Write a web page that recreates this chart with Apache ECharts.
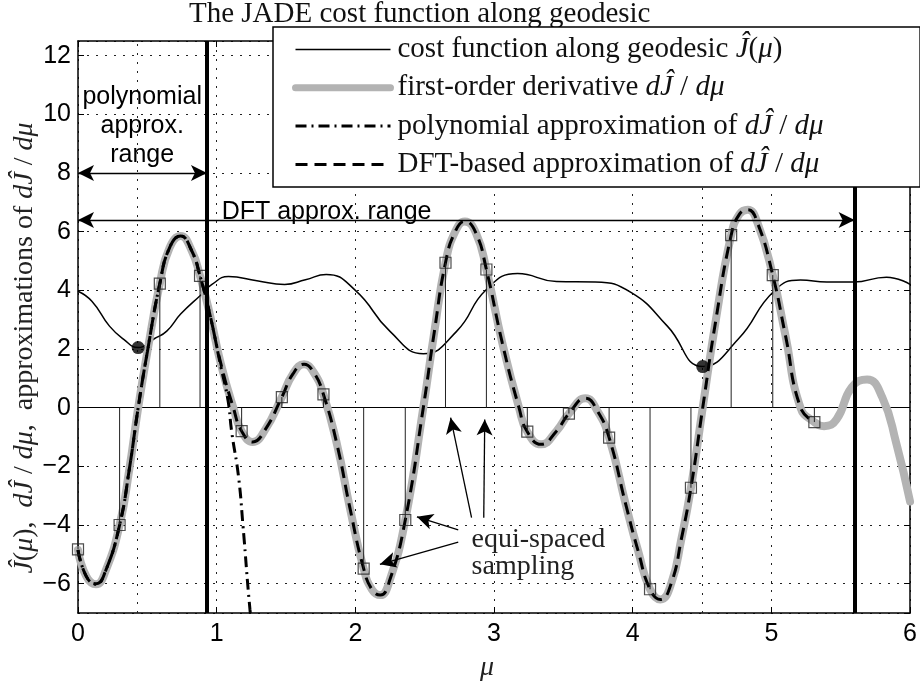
<!DOCTYPE html>
<html>
<head>
<meta charset="utf-8">
<title>JADE cost function along geodesic</title>
<script src="https://cdn.jsdelivr.net/npm/echarts@6/dist/echarts.min.js"></script>
<style>
  html, body { margin: 0; padding: 0; background: #fff; }
  #chart { width: 920px; height: 686px; }
</style>
</head>
<body>
<div id="chart"></div>
<script>
// ---- data ----
// cost function J(mu) along the geodesic
var costMu  = [0, 0.10, 0.227, 0.33, 0.434, 0.55, 0.64, 0.74, 0.89, 0.966, 1.085, 1.29, 1.49, 1.64, 1.79, 2.0, 2.25, 2.49, 2.73, 2.945, 3.17, 3.45, 3.73, 3.99, 4.25, 4.505, 4.76, 5.02, 5.21, 5.40, 5.59, 5.83, 6.0];
var costVal = [3.97, 3.63, 2.78, 2.33, 2.05, 2.35, 2.61, 3.19, 3.86, 4.2, 4.47, 4.33, 4.2, 4.36, 4.54, 4.0, 2.6, 1.84, 2.6, 4.03, 4.57, 4.3, 4.28, 3.92, 2.78, 1.40, 2.33, 3.98, 4.35, 4.28, 4.28, 4.45, 4.2];

// first-order derivative dJ/dmu
var derivMu  = [0, 0.06, 0.13, 0.20, 0.30, 0.37, 0.434, 0.50, 0.59, 0.66, 0.74, 0.82, 0.88, 0.95, 1.03, 1.12, 1.18, 1.26, 1.35, 1.47, 1.55, 1.63, 1.70, 1.77, 1.87, 1.96, 2.06, 2.12, 2.18, 2.25, 2.36, 2.49, 2.57, 2.65, 2.72, 2.79, 2.87, 2.945, 3.06, 3.18, 3.24, 3.34, 3.45, 3.54, 3.66, 3.75, 3.83, 3.95, 4.04, 4.125, 4.20, 4.28, 4.35, 4.42, 4.505, 4.60, 4.71, 4.77, 4.83, 4.90, 5.01, 5.10, 5.21, 5.31, 5.38, 5.47, 5.58, 5.69, 5.80, 5.90, 6.0];
var derivVal = [-4.85, -5.75, -6.02, -5.55, -4.0, -2.1, 0, 1.9, 4.23, 5.45, 5.85, 5.35, 4.49, 3.2, 1.5, 0, -0.8, -1.17, -0.75, 0.36, 1.15, 1.48, 1.2, 0.45, -1.3, -3.4, -5.49, -6.2, -6.39, -5.85, -3.83, 0, 2.6, 4.94, 6.0, 6.35, 5.95, 4.71, 2.2, 0, -0.82, -1.25, -0.8, -0.2, 0.32, -0.15, -1.02, -3.3, -4.9, -6.19, -6.54, -5.96, -4.5, -2.73, 0, 3.0, 5.88, 6.6, 6.75, 6.3, 4.52, 2.5, 0, -0.49, -0.63, -0.4, 0.7, 0.96, 0.35, -1.2, -3.2];

// polynomial approximation of dJ/dmu
var polyMu  = [0, 0.06, 0.13, 0.20, 0.30, 0.37, 0.434, 0.50, 0.59, 0.66, 0.74, 0.82, 0.88, 0.95, 1.03, 1.08, 1.109, 1.157, 1.19, 1.24, 1.26];
var polyVal = [-4.85, -5.75, -6.02, -5.55, -4.0, -2.1, 0, 1.9, 4.23, 5.45, 5.85, 5.35, 4.49, 3.2, 1.4, 0.3, -0.85, -2.33, -4.04, -6.88, -7.6];

// DFT-based approximation of dJ/dmu
var dftMu  = [0, 0.06, 0.13, 0.20, 0.30, 0.37, 0.434, 0.50, 0.59, 0.66, 0.74, 0.82, 0.88, 0.95, 1.03, 1.12, 1.18, 1.26, 1.35, 1.47, 1.55, 1.63, 1.70, 1.77, 1.87, 1.96, 2.06, 2.12, 2.18, 2.25, 2.36, 2.49, 2.57, 2.65, 2.72, 2.79, 2.87, 2.945, 3.06, 3.18, 3.24, 3.34, 3.45, 3.54, 3.66, 3.75, 3.83, 3.95, 4.04, 4.125, 4.20, 4.28, 4.35, 4.42, 4.505, 4.60, 4.71, 4.77, 4.83, 4.90, 5.01, 5.10, 5.21, 5.31];
var dftVal = [-4.85, -5.75, -6.0, -5.55, -4.0, -2.1, 0, 1.9, 4.23, 5.45, 5.85, 5.35, 4.49, 3.2, 1.5, 0, -0.8, -1.17, -0.75, 0.36, 1.15, 1.48, 1.2, 0.45, -1.3, -3.4, -5.49, -6.2, -6.39, -5.85, -3.83, 0, 2.6, 4.94, 6.0, 6.35, 5.95, 4.71, 2.2, 0, -0.82, -1.25, -0.8, -0.2, 0.32, -0.15, -1.02, -3.3, -4.9, -6.19, -6.54, -5.96, -4.5, -2.73, 0, 3.0, 5.88, 6.6, 6.75, 6.3, 4.52, 2.5, 0, -0.49];

// equi-spaced samples (stems + squares)
var sampleMu  = [0, 0.30, 0.59, 0.88, 1.18, 1.47, 1.77, 2.06, 2.36, 2.65, 2.945, 3.24, 3.54, 3.83, 4.125, 4.42, 4.71, 5.01, 5.31];
var sampleVal = [-4.83, -4.0, 4.23, 4.49, -0.8, 0.36, 0.45, -5.49, -3.83, 4.94, 4.71, -0.82, -0.2, -1.02, -6.19, -2.73, 5.88, 4.52, -0.49];

// minima of the cost function
var minMu  = [0.434, 4.505];
var minVal = [2.05, 1.40];

// approximation ranges
var polyRangeEnd = 0.93, polyRangeY = 8;
var dftRangeEnd = 5.6,  dftRangeY = 6.4;

var xTicks = [0, 1, 2, 3, 4, 5, 6];

var names = [
  'cost function along geodesic Ĵ(μ)',
  'first-order derivative dĴ/dμ',
  'polynomial approximation of dĴ/dμ',
  'DFT-based approximation of dĴ/dμ'
];

function pairs(xs, ys) {
  return xs.map(function (x, i) { return [x, ys[i]]; });
}

var serif = '"Liberation Serif", "Times New Roman", serif';
var sans = '"Liberation Sans", Arial, Helvetica, sans-serif';
var dotted = { type: [2, 7], color: '#222', width: 1 };
var legFont = 29;

// legend right padding so the box ends where the reference box ends
var mctx = document.createElement('canvas').getContext('2d');
mctx.font = legFont + 'px ' + serif;
var maxW = 0;
names.forEach(function (n) {
  maxW = Math.max(maxW, mctx.measureText(n.replace('/', ' / ')).width);
});
var legPadRight = Math.max(10, (916 - 273) - 19 - 95 - 5 - 2 - maxW);

function mathRich(s) {
  return '{s|}' + s.replace('Ĵ(μ)', '{m|Ĵ}({m|μ})').replace('dĴ/dμ', '{m|dĴ} / {m|dμ}');
}

var chart = echarts.init(document.getElementById('chart'));

var option = {
  animation: false,
  backgroundColor: '#fff',
  title: {
    text: 'The JADE cost function along geodesic',
    left: 189, top: 0, padding: 0,
    textStyle: { fontFamily: serif, fontSize: 29, fontWeight: 'normal', color: '#111' }
  },
  legend: {
    orient: 'vertical', left: 273, top: 27, z: 20,
    backgroundColor: '#fff', borderColor: '#000', borderWidth: 1.5,
    padding: [8, legPadRight, 8, 19],
    itemWidth: 95, itemHeight: 20, itemGap: 9.3,
    selectedMode: false,
    formatter: mathRich,
    itemStyle: { opacity: 0, borderWidth: 0 },
    textStyle: {
      fontFamily: serif, fontSize: legFont, lineHeight: 28, color: '#111',
      rich: {
        s: { width: 2 },
        m: { fontFamily: serif, fontSize: legFont, lineHeight: 28, fontStyle: 'italic', color: '#111' }
      }
    },
    data: [
      { name: names[0], lineStyle: { width: 1.5 } },
      { name: names[1], lineStyle: { width: 7 } },
      { name: names[2], lineStyle: { width: 3 } },
      { name: names[3], lineStyle: { width: 3 } }
    ]
  },
  grid: { left: 78, right: 3, top: 41, bottom: 73 },
  xAxis: [{
    type: 'value', min: 0, max: 6, interval: 1,
    axisLine: { show: true, onZero: false, lineStyle: { color: '#000', width: 1.5 } },
    axisTick: { show: true, inside: true, length: 6, lineStyle: { color: '#000' } },
    axisLabel: { fontFamily: sans, fontSize: 25, color: '#000', margin: 9,
      formatter: function (v) { return xTicks.indexOf(v) >= 0 ? String(v) : ''; } },
    splitLine: { show: true, lineStyle: dotted }
  }, {
    type: 'value', min: 0, max: 6, interval: 1, position: 'top',
    axisLine: { show: true, onZero: false, lineStyle: { color: '#000', width: 1.5 } },
    axisTick: { show: true, inside: true, length: 6, lineStyle: { color: '#000' } },
    axisLabel: { show: false }, splitLine: { show: false }
  }],
  yAxis: [{
    type: 'value', min: -7, max: 12.5, splitNumber: 10,
    axisLine: { show: true, onZero: false, lineStyle: { color: '#000', width: 1.5 } },
    axisTick: { show: true, inside: true, length: 6, lineStyle: { color: '#000' } },
    axisLabel: { fontFamily: sans, fontSize: 25, color: '#000', margin: 7,
      showMinLabel: false, showMaxLabel: false,
      formatter: function (v) { return String(v).replace('-', '\u2212'); } },
    splitLine: { show: true, lineStyle: dotted }
  }, {
    type: 'value', min: -7, max: 12.5, splitNumber: 10, position: 'right',
    axisLine: { show: true, onZero: false, lineStyle: { color: '#000', width: 1.5 } },
    axisTick: { show: true, inside: true, length: 6, lineStyle: { color: '#000' } },
    axisLabel: { show: false }, splitLine: { show: false }
  }],
  series: [
    {
      name: names[0], type: 'line', z: 2, symbol: 'none', smooth: 0.5,
      data: pairs(costMu, costVal),
      itemStyle: { color: '#000' },
      lineStyle: { color: '#000', width: 1.5 },
      markLine: {
        silent: true, symbol: 'none', z: 1, animation: false,
        label: { show: false },
        data: [
          { xAxis: minMu[0], lineStyle: dotted },
          { xAxis: minMu[1], lineStyle: dotted },
          { yAxis: 0, lineStyle: { type: 'solid', color: '#000', width: 1 } }
        ]
      }
    },
    {
      name: names[1], type: 'line', z: 3, symbol: 'none', smooth: 0.5,
      data: pairs(derivMu, derivVal),
      itemStyle: { color: '#b3b3b3' },
      lineStyle: { color: '#b3b3b3', width: 8, cap: 'round', join: 'round' }
    },
    {
      name: names[2], type: 'line', z: 4, symbol: 'none', smooth: 0.5,
      data: pairs(polyMu, polyVal),
      itemStyle: { color: '#000' },
      lineStyle: { color: '#000', width: 3, type: [11, 5, 2, 5] }
    },
    {
      name: names[3], type: 'line', z: 5, symbol: 'none', smooth: 0.5,
      data: pairs(dftMu, dftVal),
      itemStyle: { color: '#000' },
      lineStyle: { color: '#000', width: 3, type: [12, 7] }
    },
    {
      name: 'stems', type: 'custom', z: 6, silent: true,
      data: pairs(sampleMu, sampleVal),
      renderItem: function (params, api) {
        var p0 = api.coord([api.value(0), 0]);
        var p1 = api.coord([api.value(0), api.value(1)]);
        return {
          type: 'line',
          shape: { x1: p0[0], y1: p0[1], x2: p1[0], y2: p1[1] },
          style: { stroke: '#222', lineWidth: 1 }
        };
      }
    },
    {
      name: 'samples', type: 'scatter', z: 7, silent: true,
      symbol: 'rect', symbolSize: 11,
      data: pairs(sampleMu, sampleVal),
      itemStyle: { color: 'rgba(0,0,0,0)', borderColor: '#222', borderWidth: 1.2 },
      markLine: {
        silent: true, z: 10, animation: false,
        symbol: ['none', 'none'], symbolSize: [12, 16],
        label: { show: false },
        lineStyle: { type: 'solid', color: '#000', width: 1.3 },
        data: [
          { xAxis: polyRangeEnd, lineStyle: { width: 4, color: '#000' } },
          { xAxis: dftRangeEnd, lineStyle: { width: 4, color: '#000' } },
          [{ coord: [0, polyRangeY], symbol: 'arrow' }, { coord: [polyRangeEnd, polyRangeY], symbol: 'arrow' }],
          [{ coord: [0, dftRangeY], symbol: 'arrow' }, { coord: [dftRangeEnd, dftRangeY], symbol: 'arrow' }],
          [{ coord: [2.838, -3.75], symbol: 'none' }, { coord: [2.687, -0.34], symbol: 'arrow' }],
          [{ coord: [2.926, -3.75], symbol: 'none' }, { coord: [2.933, -0.40], symbol: 'arrow' }],
          [{ coord: [2.742, -4.17], symbol: 'none' }, { coord: [2.444, -3.72], symbol: 'arrow' }],
          [{ coord: [2.742, -4.58], symbol: 'none' }, { coord: [2.177, -5.34], symbol: 'arrow' }]
        ]
      }
    },
    {
      name: 'minima', type: 'scatter', z: 8, silent: true,
      symbol: 'circle', symbolSize: 13,
      data: pairs(minMu, minVal),
      itemStyle: { color: '#000' }
    }
  ]
};

chart.setOption(option);

// text annotations, placed in data units
function px(p) { return chart.convertToPixel({ xAxisIndex: 0, yAxisIndex: 0 }, p); }
var pPoly = px([0.463, 9.6]);
var pDft = px([1.036, 6.66]);
var pSamp = px([2.838, -4.97]);

chart.setOption({
  graphic: [
    { type: 'text', x: pPoly[0], y: pPoly[1], z: 30, silent: true,
      style: { text: 'polynomial\napprox.\nrange', fontFamily: sans, fontSize: 25, lineHeight: 29,
        align: 'center', verticalAlign: 'middle', fill: '#000' } },
    { type: 'text', x: pDft[0], y: pDft[1], z: 30, silent: true,
      style: { text: 'DFT approx. range', fontFamily: sans, fontSize: 25,
        align: 'left', verticalAlign: 'middle', fill: '#000' } },
    { type: 'text', x: pSamp[0], y: pSamp[1], z: 30, silent: true,
      style: { text: 'equi-spaced\nsampling', fontFamily: serif, fontSize: 28, lineHeight: 27,
        align: 'left', verticalAlign: 'middle', fill: '#222' } },
    { type: 'text', x: 25, y: 348, rotation: Math.PI / 2, z: 30, silent: true,
      style: {
        text: '{m|Ĵ}({m|μ}),  {m|dĴ} / {m|dμ},  approximations of {m|dĴ} / {m|dμ}',
        fontFamily: serif, fontSize: 28, fill: '#222', align: 'center', verticalAlign: 'middle',
        rich: { m: { fontFamily: serif, fontSize: 28, fontStyle: 'italic', fill: '#222' } }
      } },
    { type: 'text', x: 487, y: 668, z: 30, silent: true,
      style: { text: 'μ', fontFamily: serif, fontSize: 28, fontStyle: 'italic', fill: '#222',
        align: 'center', verticalAlign: 'middle' } }
  ]
});
</script>
</body>
</html>
